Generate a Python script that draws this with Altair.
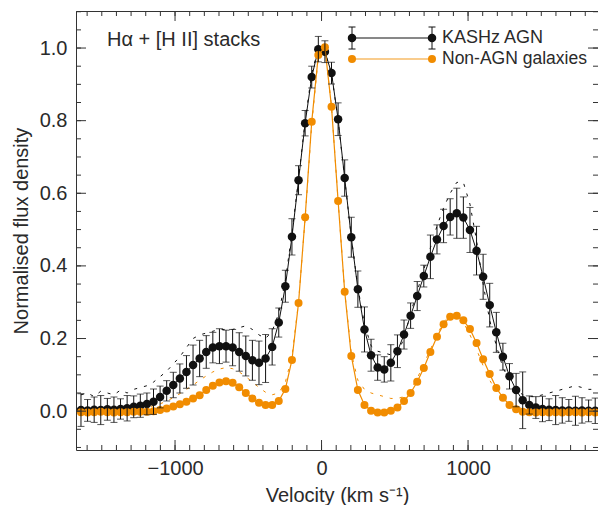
import altair as alt
import pandas as pd

# ---- data ----
velocity = [-1642, -1597, -1552, -1507, -1462, -1417, -1372, -1327, -1282, -1237,
            -1192, -1147, -1102, -1057, -1012, -967, -922, -877, -832, -787,
            -742, -697, -652, -607, -562, -517, -472, -427, -382, -337,
            -292, -247, -202, -157, -112, -67, -22, 23, 68, 113,
            158, 203, 248, 293, 338, 383, 428, 473, 518, 563,
            608, 653, 698, 743, 788, 833, 878, 923, 968, 1013,
            1058, 1103, 1148, 1193, 1238, 1283, 1328, 1373, 1418, 1463,
            1508, 1553, 1598, 1643, 1688, 1733, 1778, 1823, 1868, 1913]

agn_flux = [0.003, 0.002, 0.004, 0.003, 0.005, 0.004, 0.006, 0.008, 0.012, 0.015,
            0.020, 0.026, 0.039, 0.056, 0.072, 0.090, 0.108, 0.127, 0.145, 0.163,
            0.175, 0.179, 0.179, 0.175, 0.163, 0.152, 0.140, 0.133, 0.145, 0.177,
            0.244, 0.344, 0.480, 0.636, 0.793, 0.920, 0.997, 0.990, 0.931, 0.804,
            0.642, 0.479, 0.336, 0.225, 0.154, 0.120, 0.115, 0.133, 0.165, 0.211,
            0.263, 0.317, 0.372, 0.425, 0.473, 0.510, 0.535, 0.545, 0.533, 0.499,
            0.442, 0.370, 0.292, 0.217, 0.150, 0.096, 0.058, 0.030, 0.017, 0.010,
            0.006, 0.004, 0.003, 0.002, 0.002, 0.001, 0.002, 0.001, 0.001, 0.001]

agn_err = [0.045, 0.030, 0.035, 0.040, 0.030, 0.035, 0.028, 0.035, 0.030, 0.032,
           0.030, 0.035, 0.030, 0.028, 0.035, 0.040, 0.045, 0.055, 0.050, 0.045,
           0.042, 0.048, 0.044, 0.050, 0.053, 0.055, 0.055, 0.060, 0.066, 0.050,
           0.040, 0.044, 0.050, 0.040, 0.035, 0.030, 0.035, 0.030, 0.030, 0.045,
           0.050, 0.055, 0.050, 0.062, 0.044, 0.035, 0.035, 0.050, 0.045, 0.040,
           0.035, 0.040, 0.030, 0.060, 0.040, 0.046, 0.050, 0.069, 0.057, 0.062,
           0.067, 0.062, 0.060, 0.055, 0.037, 0.035, 0.046, 0.078, 0.025, 0.030,
           0.035, 0.030, 0.040, 0.035, 0.030, 0.040, 0.035, 0.030, 0.035, 0.030]

agn_alt = [0.045, 0.050, 0.040, 0.055, 0.050, 0.045, 0.058, 0.050, 0.060, 0.065,
           0.070, 0.080, 0.095, 0.110, 0.130, 0.150, 0.175, 0.200, 0.210, 0.215,
           0.220, 0.225, 0.225, 0.225, 0.230, 0.235, 0.225, 0.210, 0.200, 0.220,
           0.270, 0.360, 0.490, 0.640, 0.800, 0.930, 1.000, 0.990, 0.930, 0.800,
           0.640, 0.480, 0.340, 0.240, 0.180, 0.165, 0.160, 0.155, 0.160, 0.200,
           0.270, 0.330, 0.390, 0.450, 0.510, 0.560, 0.600, 0.630, 0.630, 0.570,
           0.470, 0.350, 0.250, 0.180, 0.120, 0.085, 0.060, 0.045, 0.040, 0.040,
           0.045, 0.050, 0.055, 0.060, 0.065, 0.070, 0.065, 0.060, 0.060, 0.065]

non_flux = [-0.003, -0.004, -0.003, -0.002, -0.003, -0.004, -0.003, -0.003, -0.002, -0.002,
            -0.002, 0.000, 0.003, 0.007, 0.013, 0.019, 0.026, 0.035, 0.044, 0.058,
            0.070, 0.079, 0.082, 0.078, 0.066, 0.050, 0.035, 0.023, 0.017, 0.017,
            0.028, 0.061, 0.141, 0.298, 0.534, 0.797, 0.981, 1.002, 0.838, 0.579,
            0.329, 0.152, 0.058, 0.017, 0.001, -0.004, -0.004, 0.001, 0.010, 0.028,
            0.050, 0.081, 0.119, 0.163, 0.205, 0.239, 0.260, 0.263, 0.250, 0.226,
            0.188, 0.143, 0.102, 0.064, 0.037, 0.017, 0.005, -0.002, -0.003, -0.004,
            -0.003, -0.004, -0.003, -0.004, -0.003, -0.003, -0.004, -0.003, -0.004, -0.003]

non_alt = [0.006, 0.005, 0.007, 0.006, 0.008, 0.007, 0.008, 0.009, 0.009, 0.010,
           0.010, 0.015, 0.020, 0.028, 0.037, 0.048, 0.060, 0.072, 0.085, 0.097,
           0.108, 0.116, 0.120, 0.117, 0.108, 0.095, 0.080, 0.065, 0.052, 0.045,
           0.050, 0.080, 0.150, 0.300, 0.530, 0.790, 0.975, 1.000, 0.840, 0.580,
           0.330, 0.160, 0.085, 0.060, 0.050, 0.045, 0.040, 0.035, 0.035, 0.040,
           0.060, 0.090, 0.130, 0.170, 0.210, 0.245, 0.265, 0.265, 0.245, 0.210,
           0.170, 0.125, 0.085, 0.055, 0.035, 0.020, 0.010, 0.008, 0.007, 0.008,
           0.006, 0.007, 0.008, 0.006, 0.007, 0.008, 0.006, 0.007, 0.006, 0.007]

x_minor_ticks = list(range(-1600, 1900, 100))
x_major_ticks = [-1000, 0, 1000]
y_minor_ticks = [-0.1, -0.05, 0.0, 0.05, 0.1, 0.15, 0.2, 0.25, 0.3, 0.35, 0.4, 0.45,
                 0.5, 0.55, 0.6, 0.65, 0.7, 0.75, 0.8, 0.85, 0.9, 0.95, 1.0, 1.05, 1.1]
y_major_ticks = [0.0, 0.2, 0.4, 0.6, 0.8, 1.0]

series_names = ["KASHz AGN", "Non-AGN galaxies"]
panel_label = "H\u03b1 + [H II] stacks"
x_title = "Velocity (km s\u207b\u00b9)"
y_title = "Normalised flux density"

# ---- styling ----
W, H = 522, 439
BLACK = "#111111"
AXC = "#333333"
TXT = "#2a2a2a"
ORANGE = "#F18C00"
FONT = "Liberation Sans"

df = pd.DataFrame({"v": velocity, "agn": agn_flux, "err": agn_err,
                   "agn_alt": agn_alt, "non": non_flux, "non_alt": non_alt})
df["lo"] = df["agn"] - df["err"]
df["hi"] = df["agn"] + df["err"]

xs = alt.Scale(domain=[-1676, 1887], nice=False, zero=False)
ys = alt.Scale(domain=[-0.107, 1.102], nice=False, zero=False)

xaxis = alt.Axis(values=x_major_ticks, ticks=False, domain=False, grid=False,
                 format="d", labelFontSize=20, labelPadding=8,
                 titleFontSize=20, titlePadding=7, titleFontWeight="normal")
yaxis = alt.Axis(values=y_major_ticks, ticks=False, domain=False, grid=False,
                 format=".1f", labelFontSize=20, labelPadding=9,
                 titleFontSize=20, titlePadding=8, titleFontWeight="normal")


def X(field):
    return alt.X(field, type="quantitative", scale=xs, axis=xaxis, title=x_title)


def Y(field):
    return alt.Y(field, type="quantitative", scale=ys, axis=yaxis, title=y_title)


base = alt.Chart(df)

agn_dash = base.mark_line(color=BLACK, strokeWidth=1, strokeDash=[3, 7], clip=True).encode(
    x=X("v"), y=Y("agn_alt"))
non_dash = base.mark_line(color=ORANGE, strokeWidth=1, strokeDash=[3, 7], clip=True).encode(
    x=X("v"), y=Y("non_alt"))

agn_line = base.mark_line(color=BLACK, strokeWidth=1, clip=True).encode(x=X("v"), y=Y("agn"))
agn_pts = base.mark_circle(color=BLACK, size=72, opacity=1, clip=True).encode(x=X("v"), y=Y("agn"))
non_line = base.mark_line(color=ORANGE, strokeWidth=1.2, clip=True).encode(x=X("v"), y=Y("non"))
non_pts = base.mark_circle(color=ORANGE, size=64, opacity=1, clip=True).encode(x=X("v"), y=Y("non"))

err_rule = base.mark_rule(color=BLACK, strokeWidth=1, clip=True).encode(
    x=X("v"), y=Y("lo"), y2="hi:Q")
cap_lo = base.mark_tick(color=BLACK, orient="horizontal", size=7, thickness=1, clip=True).encode(
    x=X("v"), y=Y("lo"))
cap_hi = base.mark_tick(color=BLACK, orient="horizontal", size=7, thickness=1, clip=True).encode(
    x=X("v"), y=Y("hi"))


# inward ticks on all four sides
def xticks(vals, length):
    d = alt.Chart(pd.DataFrame({"t": vals}))
    bot = d.mark_rule(color=AXC, strokeWidth=1).encode(
        x=X("t"), y=alt.value(H), y2=alt.value(H - length))
    top = d.mark_rule(color=AXC, strokeWidth=1).encode(
        x=X("t"), y=alt.value(0), y2=alt.value(length))
    return [bot, top]


def yticks(vals, length):
    d = alt.Chart(pd.DataFrame({"t": vals}))
    left = d.mark_rule(color=AXC, strokeWidth=1).encode(
        y=Y("t"), x=alt.value(0), x2=alt.value(length))
    right = d.mark_rule(color=AXC, strokeWidth=1).encode(
        y=Y("t"), x=alt.value(W), x2=alt.value(W - length))
    return [left, right]


tick_layers = (xticks(x_minor_ticks, 5) + xticks(x_major_ticks, 10)
               + yticks(y_minor_ticks, 5) + yticks(y_major_ticks, 10))

# legend and panel label
one = alt.Chart(pd.DataFrame({"a": [0]}))
LX0, LX1, LY1, LY2, TX = 276, 356, 27, 48, 366


def vrule(x, y0, y1, color=BLACK):
    return one.mark_rule(color=color, strokeWidth=1).encode(
        x=alt.value(x), y=alt.value(y0), y2=alt.value(y1))


def hrule(x0, x1, y, color=BLACK, width=1, opacity=1):
    return one.mark_rule(color=color, strokeWidth=width, opacity=opacity).encode(
        x=alt.value(x0), x2=alt.value(x1), y=alt.value(y))


def dot(x, y, color, size):
    return one.mark_circle(color=color, size=size, opacity=1).encode(
        x=alt.value(x), y=alt.value(y))


def label(x, y, txt, size):
    return one.mark_text(align="left", baseline="middle", font=FONT, fontSize=size,
                         color=TXT).encode(x=alt.value(x), y=alt.value(y), text=alt.value(txt))


leg = [
    hrule(LX0, LX1, LY1),
    vrule(LX0, LY1 - 11, LY1 + 11), vrule(LX1, LY1 - 11, LY1 + 11),
    hrule(LX0 - 3.5, LX0 + 3.5, LY1 - 11), hrule(LX0 - 3.5, LX0 + 3.5, LY1 + 11),
    hrule(LX1 - 3.5, LX1 + 3.5, LY1 - 11), hrule(LX1 - 3.5, LX1 + 3.5, LY1 + 11),
    dot(LX0, LY1, BLACK, 72), dot(LX1, LY1, BLACK, 72),
    hrule(LX0, LX1, LY2, ORANGE, 1.5, 0.6),
    dot(LX0, LY2, ORANGE, 64), dot(LX1, LY2, ORANGE, 64),
    label(TX, LY1, series_names[0], 18),
    label(TX, LY2, series_names[1], 17.5),
    label(31, 29, panel_label, 20),
]

chart = alt.layer(
    agn_dash, non_dash, agn_line, agn_pts, non_line, non_pts, err_rule, cap_lo, cap_hi,
    *tick_layers, *leg
).properties(
    width=W, height=H,
    padding={"left": 68, "top": 3, "right": 0, "bottom": 55},
    autosize=alt.AutoSizeParams(type="none"),
).configure_view(
    stroke=AXC, strokeWidth=1
).configure_axis(
    labelFont=FONT, titleFont=FONT, labelColor=TXT, titleColor=TXT
)

chart.save("out.html", embed_options={"renderer": "svg", "actions": False})
